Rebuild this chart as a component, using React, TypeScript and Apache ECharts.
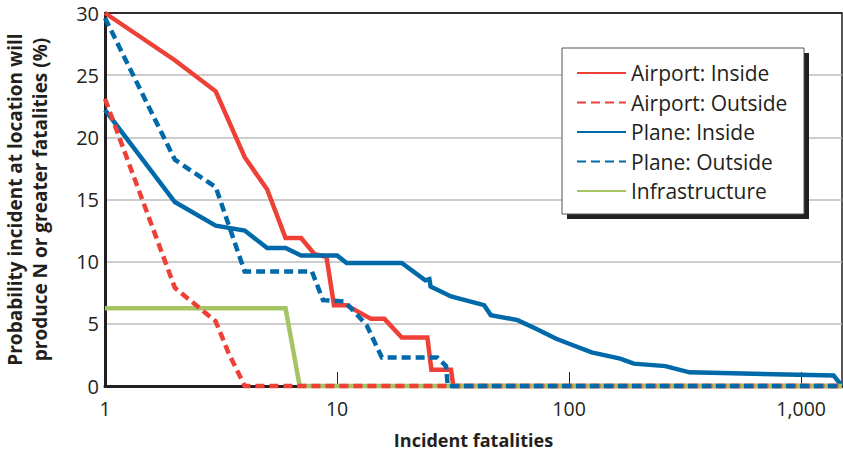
import React, { useEffect, useRef } from "react";
import * as echarts from "echarts";

const seriesNames = ["Airport: Inside", "Airport: Outside", "Plane: Inside", "Plane: Outside", "Infrastructure"];

const airportInsideN = [1, 2, 3, 4, 5, 6, 7, 8, 9, 9.7, 11, 14, 16, 19, 24.5, 25.5, 31, 31.7, 1500];
const airportInsideP = [30, 26.2, 23.7, 18.4, 15.8, 11.9, 11.9, 10.6, 10.4, 6.5, 6.5, 5.4, 5.4, 3.9, 3.9, 1.3, 1.3, 0, 0];

const airportOutsideN = [1, 2, 3, 3.4, 4, 1500];
const airportOutsideP = [23.1, 7.9, 5.2, 2.7, 0, 0];

const planeInsideN = [1, 2, 3, 4, 5, 6, 7, 10, 11, 19, 24, 25, 25.3, 31, 43, 46, 60, 72, 88, 100, 125, 166, 190, 260, 330, 1380, 1500];
const planeInsideP = [22.2, 14.8, 12.9, 12.5, 11.1, 11.1, 10.5, 10.5, 9.9, 9.9, 8.5, 8.6, 8.0, 7.2, 6.5, 5.7, 5.3, 4.6, 3.8, 3.4, 2.7, 2.2, 1.8, 1.6, 1.1, 0.85, 0];

const planeOutsideN = [1, 2, 3, 4, 7.8, 8.7, 10.8, 13.4, 15.6, 27, 29.5, 30, 1500];
const planeOutsideP = [29.6, 18.2, 16.0, 9.2, 9.2, 6.9, 6.8, 4.9, 2.3, 2.3, 1.6, 0, 0];

const infraN = [1, 6, 6.9, 1500];
const infraP = [6.25, 6.25, 0, 0];

const yTicks = [0, 5, 10, 15, 20, 25, 30];

const RED = "#ee4036";
const BLUE = "#0069a9";
const GREEN = "#a5c565";
const INK = "#231f20";
const FONT = "'Open Sans', 'Noto Sans', sans-serif";

const zip = (xs: number[], ys: number[]) => xs.map((x, i) => [x, ys[i]]);

export default function App() {
  const ref = useRef<HTMLDivElement>(null);
  useEffect(() => {
    if (!ref.current) return;
    document.body.style.margin = "0";
    document.body.style.overflow = "hidden";
    const chart = echarts.init(ref.current, undefined, { renderer: "svg" });
    const line = (name: string, data: number[][], color: string, dashed: boolean, z: number) => ({
      name,
      type: "line",
      data,
      symbol: "none",
      clip: false,
      z,
      lineStyle: { color, width: 4.5, type: dashed ? [9, 5] : "solid", cap: "butt", join: "miter" },
      itemStyle: { color },
    });
    chart.setOption({
      animation: false,
      textStyle: { fontFamily: FONT },
      grid: {
        left: 105,
        top: 13,
        right: 1,
        bottom: 66,
        outerBoundsMode: "none",
        containLabel: false,
        show: true,
        borderColor: INK,
        borderWidth: 1.5,
        backgroundColor: "#fff",
      },
      xAxis: {
        type: "log",
        logBase: 10,
        min: 1,
        max: 1500,
        name: "Incident fatalities",
        nameLocation: "middle",
        nameGap: 45,
        nameTextStyle: { fontSize: 18, fontWeight: "bold", color: INK, fontFamily: FONT },
        axisLine: { show: true, lineStyle: { color: INK, width: 3 } },
        axisTick: { show: true, inside: true, length: 14, lineStyle: { color: INK, width: 1 } },
        axisLabel: {
          fontSize: 19.5,
          color: INK,
          margin: 12,
          fontFamily: FONT,
          showMaxLabel: false,
          formatter: (v: number) => (v >= 1000 ? v.toLocaleString("en-US") : String(v)),
        },
        splitLine: { show: false },
      },
      yAxis: {
        type: "value",
        min: 0,
        max: 30,
        interval: 5,
        name: "Probability incident at location will\nproduce N or greater fatalities (%)",
        nameLocation: "middle",
        nameGap: 53,
        nameRotate: 90,
        nameTextStyle: { fontSize: 19, fontWeight: "bold", color: INK, lineHeight: 25, fontFamily: FONT },
        axisLine: { show: true, lineStyle: { color: INK, width: 3 } },
        axisTick: { show: false },
        axisLabel: { fontSize: 20, color: INK, margin: 6, fontFamily: FONT },
        splitLine: {
          show: true,
          lineStyle: {
            color: yTicks.map((t) => (t === 0 || t === 30 ? INK : "#bcbcbc")),
            width: 1.5,
          },
        },
      },
      legend: {
        orient: "vertical",
        left: 576,
        top: 62,
        padding: 0,
        itemWidth: 49,
        itemHeight: 14,
        itemGap: 7.5,
        z: 20,
        data: seriesNames,
        selectedMode: false,
        itemStyle: { opacity: 0 },
        textStyle: { fontSize: 21, color: INK, lineHeight: 22, fontFamily: FONT },
      },
      graphic: [
        { type: "rect", z: 10, shape: { x: 567, y: 53, width: 242, height: 166 }, style: { fill: INK } },
        {
          type: "rect",
          z: 11,
          shape: { x: 562, y: 48, width: 242, height: 166 },
          style: { fill: "#fff", stroke: "#555", lineWidth: 1 },
        },
      ],
      series: [
        line(seriesNames[0], zip(airportInsideN, airportInsideP), RED, false, 3),
        line(seriesNames[1], zip(airportOutsideN, airportOutsideP), RED, true, 5),
        line(seriesNames[2], zip(planeInsideN, planeInsideP), BLUE, false, 4),
        line(seriesNames[3], zip(planeOutsideN, planeOutsideP), BLUE, true, 6),
        line(seriesNames[4], zip(infraN, infraP), GREEN, false, 4),
      ],
    });
    return () => chart.dispose();
  }, []);
  return <div ref={ref} style={{ position: "absolute", left: 0, top: 0, width: 843, height: 452 }} />;
}
